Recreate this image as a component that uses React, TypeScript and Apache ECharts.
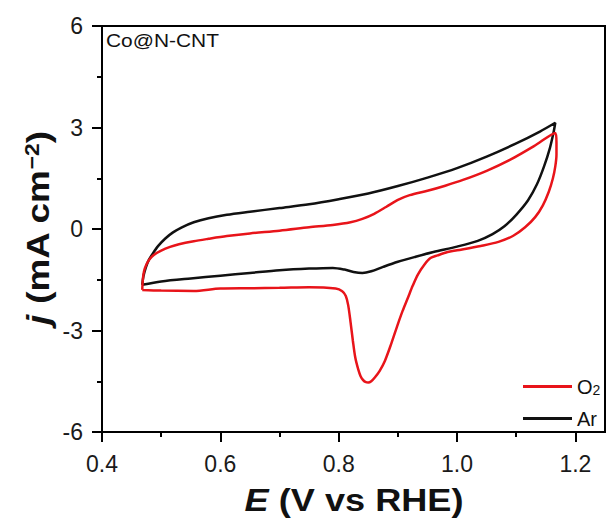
import React, { useEffect, useRef } from "react";
import * as echarts from "echarts";

// Ar (black) cyclic voltammogram: anodic branch (left -> right), then cathodic branch (right -> left)
const E_AR = [0.468, 0.47, 0.474, 0.479, 0.486, 0.495, 0.507, 0.52, 0.535, 0.555, 0.58, 0.611, 0.65, 0.7, 0.75, 0.8, 0.85, 0.9, 0.95, 1.0, 1.05, 1.1, 1.14, 1.166,
  1.163, 1.157, 1.147, 1.135, 1.12, 1.1, 1.08, 1.06, 1.035, 1.0, 0.96, 0.93, 0.9, 0.875, 0.855, 0.84, 0.825, 0.81, 0.79, 0.75, 0.7, 0.65, 0.6, 0.55, 0.5, 0.468];
const J_AR = [-1.65, -1.4, -1.14, -0.92, -0.72, -0.5, -0.28, -0.1, 0.05, 0.2, 0.32, 0.42, 0.51, 0.62, 0.73, 0.88, 1.05, 1.27, 1.52, 1.8, 2.14, 2.53, 2.88, 3.14,
  2.85, 2.4, 1.85, 1.32, 0.85, 0.42, 0.08, -0.15, -0.35, -0.52, -0.68, -0.82, -0.97, -1.12, -1.25, -1.3, -1.27, -1.2, -1.15, -1.17, -1.22, -1.3, -1.38, -1.46, -1.55, -1.65];

// O2 (red)
const E_O2 = [0.468, 0.469, 0.471, 0.475, 0.48, 0.488, 0.5, 0.515, 0.53, 0.555, 0.58, 0.611, 0.65, 0.7, 0.75, 0.79, 0.82, 0.84, 0.86, 0.88, 0.9, 0.92, 0.95, 0.98, 1.01, 1.05, 1.09, 1.13, 1.166,
  1.168, 1.168, 1.166, 1.162, 1.155, 1.145, 1.132, 1.115, 1.095, 1.07, 1.04, 1.0, 0.984, 0.967, 0.955, 0.945, 0.934, 0.925, 0.917, 0.908, 0.9, 0.889, 0.878, 0.869, 0.861, 0.855, 0.85, 0.845, 0.841, 0.837, 0.833, 0.828, 0.824, 0.82, 0.816, 0.812, 0.806, 0.795, 0.75, 0.7, 0.65, 0.6, 0.555, 0.5, 0.468];
const J_O2 = [-1.8, -1.5, -1.25, -1.05, -0.9, -0.76, -0.64, -0.53, -0.45, -0.36, -0.29, -0.21, -0.13, -0.05, 0.05, 0.12, 0.2, 0.3, 0.45, 0.65, 0.86, 1.0, 1.13, 1.28, 1.45, 1.72, 2.05, 2.45, 2.84,
  2.55, 2.2, 1.85, 1.5, 1.1, 0.7, 0.35, 0.05, -0.2, -0.38, -0.5, -0.63, -0.68, -0.78, -0.86, -1.05, -1.34, -1.68, -2.03, -2.42, -2.81, -3.38, -3.9, -4.2, -4.39, -4.5, -4.54, -4.52, -4.46, -4.35, -4.15, -3.8, -3.31, -2.75, -2.25, -1.98, -1.84, -1.76, -1.72, -1.74, -1.75, -1.76, -1.83, -1.82, -1.8];

const X_MAJOR = [0.4, 0.6, 0.8, 1.0, 1.2];
const X_MINOR = [0.5, 0.7, 0.9, 1.1];
const SERIES_NAMES = ["O2", "Ar"];

const FONT = "'Liberation Sans', Arial, Helvetica, sans-serif";

export default function App() {
  const ref = useRef<HTMLDivElement>(null);
  useEffect(() => {
    if (!ref.current) return;
    const chart = echarts.init(ref.current, undefined, { renderer: "svg" });
    const axisColor = "#000";
    const option: any = {
      animation: false,
      backgroundColor: "#fff",
      grid: {
        left: 102,
        right: 4,
        top: 26,
        bottom: 93,
        show: true,
        borderColor: axisColor,
        borderWidth: 2,
        backgroundColor: "transparent",
      },
      legend: {
        data: SERIES_NAMES,
        orient: "vertical",
        left: 523,
        top: 374,
        padding: 0,
        itemWidth: 49,
        itemHeight: 3,
        itemGap: 11,
        icon: "rect",
        textStyle: {
          fontFamily: FONT,
          fontSize: 20,
          lineHeight: 21,
          color: "#111",
          rich: {
            sub: { fontFamily: FONT, fontSize: 14, lineHeight: 14, verticalAlign: "bottom", padding: [9, 0, 0, 0], color: "#111" },
          },
        },
        formatter: (name: string) => (name === "O2" ? "O{sub|2}" : name),
      },
      xAxis: [
        {
          type: "value",
          min: 0.4,
          max: 1.25,
          interval: 0.2,
          axisLine: { show: true, onZero: false, lineStyle: { color: axisColor, width: 2 } },
          axisTick: { show: true, inside: false, length: 10, customValues: X_MAJOR, lineStyle: { color: axisColor, width: 2 } },
          axisLabel: {
            customValues: X_MAJOR,
            formatter: (v: number) => v.toFixed(1),
            fontFamily: FONT,
            fontSize: 23,
            color: "#1a1a1a",
            margin: 20,
          },
          splitLine: { show: false },
        },
        {
          type: "value",
          min: 0.4,
          max: 1.25,
          position: "bottom",
          axisLine: { show: false, onZero: false },
          axisTick: { show: true, inside: false, length: 5, customValues: X_MINOR, lineStyle: { color: axisColor, width: 2 } },
          axisLabel: { show: false },
          splitLine: { show: false },
        },
      ],
      yAxis: {
        type: "value",
        min: -6,
        max: 6,
        interval: 3,
        axisLine: { show: true, onZero: false, lineStyle: { color: axisColor, width: 2 } },
        axisTick: { show: true, inside: false, length: 10, lineStyle: { color: axisColor, width: 2 } },
        minorTick: { show: true, splitNumber: 2, length: 5, lineStyle: { color: axisColor, width: 2 } },
        axisLabel: { fontFamily: FONT, fontSize: 23, color: "#1a1a1a", margin: 19 },
        splitLine: { show: false },
      },
      series: [
        {
          name: "Ar",
          type: "line",
          xAxisIndex: 0,
          data: E_AR.map((e, i) => [e, J_AR[i]]),
          showSymbol: false,
          symbol: "none",
          smooth: 0.3,
          color: "#111111",
          lineStyle: { width: 2.5, color: "#111111" },
        },
        {
          name: "O2",
          type: "line",
          xAxisIndex: 0,
          data: E_O2.map((e, i) => [e, J_O2[i]]),
          showSymbol: false,
          symbol: "none",
          smooth: 0.3,
          color: "#e8141a",
          lineStyle: { width: 2.5, color: "#e8141a" },
        },
      ],
      graphic: [
        {
          type: "text",
          x: 106,
          y: 31,
          scaleX: 1.1,
          style: { text: "Co@N-CNT", fontFamily: FONT, fontSize: 19, fill: "#111", align: "left", verticalAlign: "top" },
        },
        {
          type: "text",
          x: 354,
          y: 500,
          scaleX: 1.13,
          style: {
            text: "{i|E} (V vs RHE)",
            fontFamily: FONT,
            fontSize: 32,
            fontWeight: "bold",
            fill: "#111",
            align: "center",
            verticalAlign: "middle",
            rich: {
              i: { fontFamily: FONT, fontSize: 32, fontWeight: "bold", fontStyle: "italic", fill: "#111" },
            },
          },
        },
        {
          type: "text",
          x: 38,
          y: 228,
          rotation: Math.PI / 2,
          scaleX: 1.15,
          style: {
            text: "{i|j} (mA cm{sup|−2})",
            fontFamily: FONT,
            fontSize: 32,
            fontWeight: "bold",
            fill: "#111",
            align: "center",
            verticalAlign: "middle",
            rich: {
              i: { fontFamily: FONT, fontSize: 32, fontWeight: "bold", fontStyle: "italic", fill: "#111" },
              sup: { fontFamily: FONT, fontSize: 20, fontWeight: "bold", verticalAlign: "top", lineHeight: 20, fill: "#111" },
            },
          },
        },
      ],
    };
    chart.setOption(option);
    return () => chart.dispose();
  }, []);
  return <div ref={ref} style={{ position: "fixed", left: 0, top: 0, width: 609, height: 525 }} />;
}
